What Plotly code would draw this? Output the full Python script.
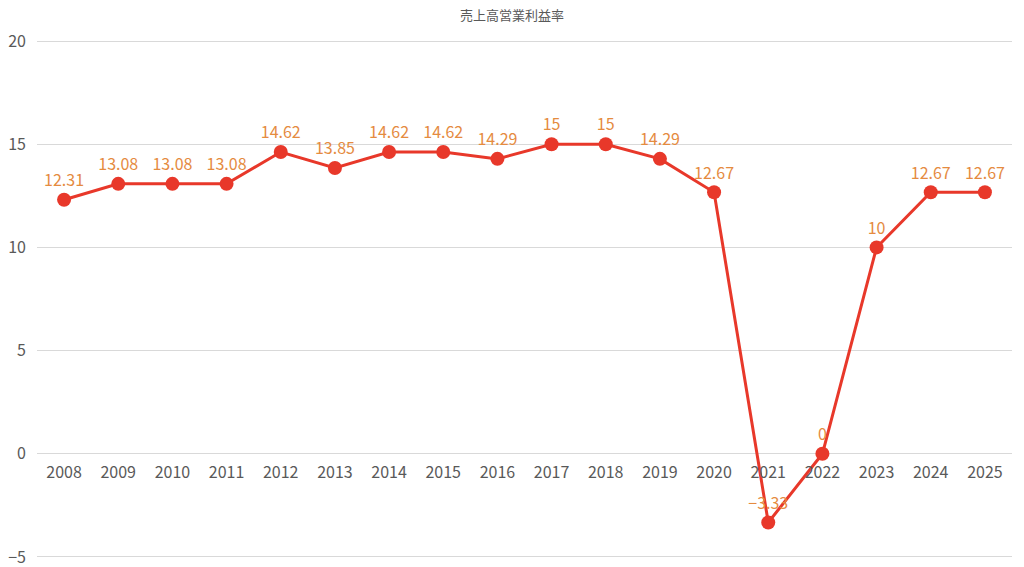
import plotly.graph_objects as go

years = ["2008", "2009", "2010", "2011", "2012", "2013", "2014", "2015", "2016",
         "2017", "2018", "2019", "2020", "2021", "2022", "2023", "2024", "2025"]
margin_pct = [12.31, 13.08, 13.08, 13.08, 14.62, 13.85, 14.62, 14.62, 14.29,
              15, 15, 14.29, 12.67, -3.33, 0, 10, 12.67, 12.67]
labels = [("%g" % v).replace("-", "\u2212") for v in margin_pct]

FONT = "Noto Sans CJK JP"
Y0, Y1 = -5.05, 20.05
fig = go.Figure()
fig.add_trace(go.Scatter(
    x=years, y=margin_pct, mode="lines+markers+text",
    text=labels, textposition="top center",
    textfont=dict(family=FONT, size=16, color="#E58B3F"),
    line=dict(color="#E8382A", width=3),
    marker=dict(color="#E8382A", size=14),
    cliponaxis=False,
    showlegend=False,
))
fig.update_layout(
    width=1024, height=567,
    margin=dict(l=37, r=12, t=40, b=9, autoexpand=False),
    paper_bgcolor="white", plot_bgcolor="white",
    title=dict(text="売上高営業利益率", x=0.5, xanchor="center", y=1 - 15 / 567,
               yanchor="middle", font=dict(family=FONT, size=13, color="#595959")),
    font=dict(family=FONT, color="#595959"),
    xaxis=dict(type="category", range=[-0.5, 17.5], showgrid=False, automargin=False,
               anchor="free", position=(0 - Y0) / (Y1 - Y0), showline=False, ticks="",
               ticklabelstandoff=7,
               tickfont=dict(family=FONT, size=16, color="#595959")),
    yaxis=dict(range=[Y0, Y1], tickvals=[-5, 0, 5, 10, 15, 20], showgrid=True,
               gridcolor="#D9D9D9", gridwidth=1, zeroline=False, ticks="",
               automargin=False,
               ticklabelstandoff=10, ticklabeloverflow="allow",
               tickfont=dict(family=FONT, size=16, color="#595959")),
)
fig.write_html("out.html")
